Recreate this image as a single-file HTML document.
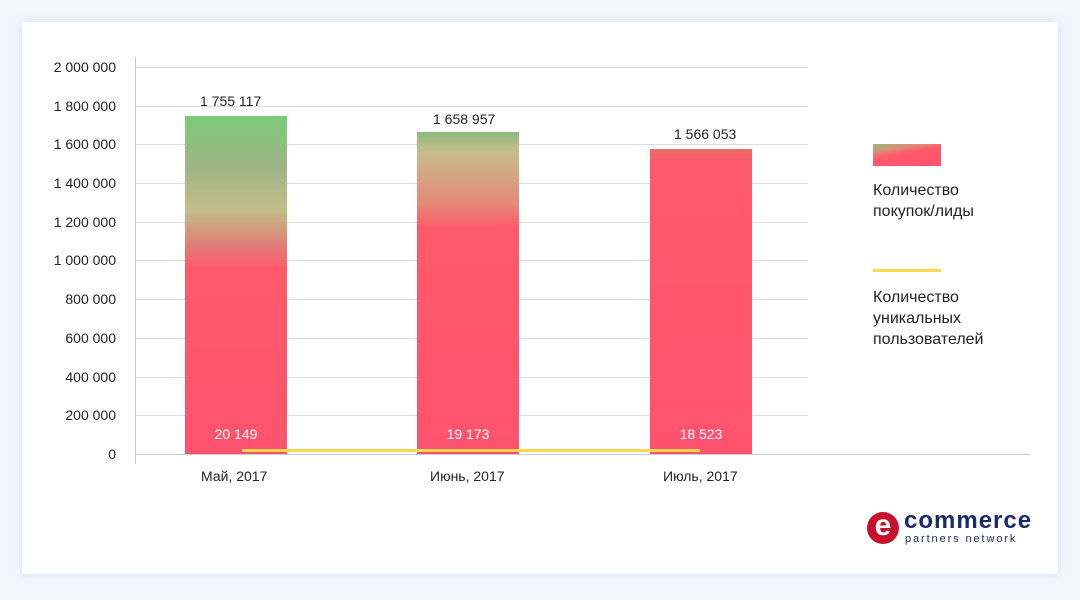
<!DOCTYPE html>
<html><head><meta charset="utf-8"><style>
body{margin:0;width:1080px;height:600px;background:#f3f6fc;font-family:"Liberation Sans",sans-serif;position:relative;overflow:hidden}
.card{position:absolute;left:22px;top:22px;width:1036px;height:552px;background:#fff;box-shadow:0 0 8px rgba(150,170,230,.35)}
.t{position:absolute;font-size:14px;color:#222;white-space:nowrap}
.yl{position:absolute;right:964px;font-size:14px;color:#222;text-align:right}
.g{position:absolute;left:135px;width:673px;height:1px;background:#ddd}
.bar{position:absolute;width:102px}
.w{position:absolute;font-size:14px;color:#fff;width:102px;text-align:center}
.lg{position:absolute;left:873px;font-size:16px;color:#222;line-height:21px}
</style></head><body>
<div class="card"></div>
<div class="g" style="top:67px"></div><div class="g" style="top:106px"></div><div class="g" style="top:144px"></div><div class="g" style="top:183px"></div><div class="g" style="top:222px"></div><div class="g" style="top:260px"></div><div class="g" style="top:299px"></div><div class="g" style="top:338px"></div><div class="g" style="top:377px"></div><div class="g" style="top:415px"></div>
<div class="g" style="top:454px;width:895px;background:#ccc"></div>
<div style="position:absolute;left:135px;top:57px;width:1px;height:407px;background:#ccc"></div>
<div class="yl" style="top:59px">2 000 000</div><div class="yl" style="top:98px">1 800 000</div><div class="yl" style="top:136px">1 600 000</div><div class="yl" style="top:175px">1 400 000</div><div class="yl" style="top:214px">1 200 000</div><div class="yl" style="top:252px">1 000 000</div><div class="yl" style="top:291px">800 000</div><div class="yl" style="top:330px">600 000</div><div class="yl" style="top:369px">400 000</div><div class="yl" style="top:407px">200 000</div><div class="yl" style="top:446px">0</div>
<div class="bar" style="left:185px;top:116px;height:338px;background:linear-gradient(#7ccb78 0%,#9fb486 15%,#c4bd8a 28%,#df7f78 38%,#ff5a6a 45%,#ff526e 100%)"></div>
<div class="bar" style="left:417px;top:132px;height:322px;background:linear-gradient(#8db97c 0%,#c6bd8a 6%,#e48a7a 22%,#ff5a6a 30%,#ff526e 100%)"></div>
<div class="bar" style="left:650px;top:149px;height:305px;background:linear-gradient(#e86d6a 0%,#ff5a6a 4%,#ff526e 100%)"></div>
<div class="t" style="left:200px;top:93px">1 755 117</div>
<div class="t" style="left:433px;top:111px">1 658 957</div>
<div class="t" style="left:674px;top:126px">1 566 053</div>
<div class="w" style="left:185px;top:426px">20 149</div>
<div class="w" style="left:417px;top:426px">19 173</div>
<div class="w" style="left:650px;top:426px">18 523</div>
<div style="position:absolute;left:242px;top:449px;width:458px;height:3px;background:#ffd84d"></div>
<div class="t" style="left:201px;top:468px">Май, 2017</div>
<div class="t" style="left:430px;top:468px">Июнь, 2017</div>
<div class="t" style="left:663px;top:468px">Июль, 2017</div>
<div style="position:absolute;left:873px;top:144px;width:68px;height:22px;background:linear-gradient(170deg,#8cbf7a 0%,#e08a78 25%,#ff5a6a 45%,#ff526e 100%)"></div>
<div class="lg" style="top:180px">Количество<br>покупок/лиды</div>
<div style="position:absolute;left:873px;top:269px;width:68px;height:3px;background:#ffd84d"></div>
<div class="lg" style="top:287px">Количество<br>уникальных<br>пользователей</div>
<div style="position:absolute;left:867px;top:512px;width:32px;height:32px;border-radius:50%;background:#c8102e;color:#fff;font-size:30px;line-height:28px;text-align:center;font-weight:bold">e</div>
<div style="position:absolute;left:904px;top:507px;font-size:24px;color:#1c2a6b;font-weight:bold;letter-spacing:1px">commerce</div>
<div style="position:absolute;left:905px;top:533px;font-size:11px;color:#1c2a6b;letter-spacing:1.9px">partners network</div>
</body></html>
